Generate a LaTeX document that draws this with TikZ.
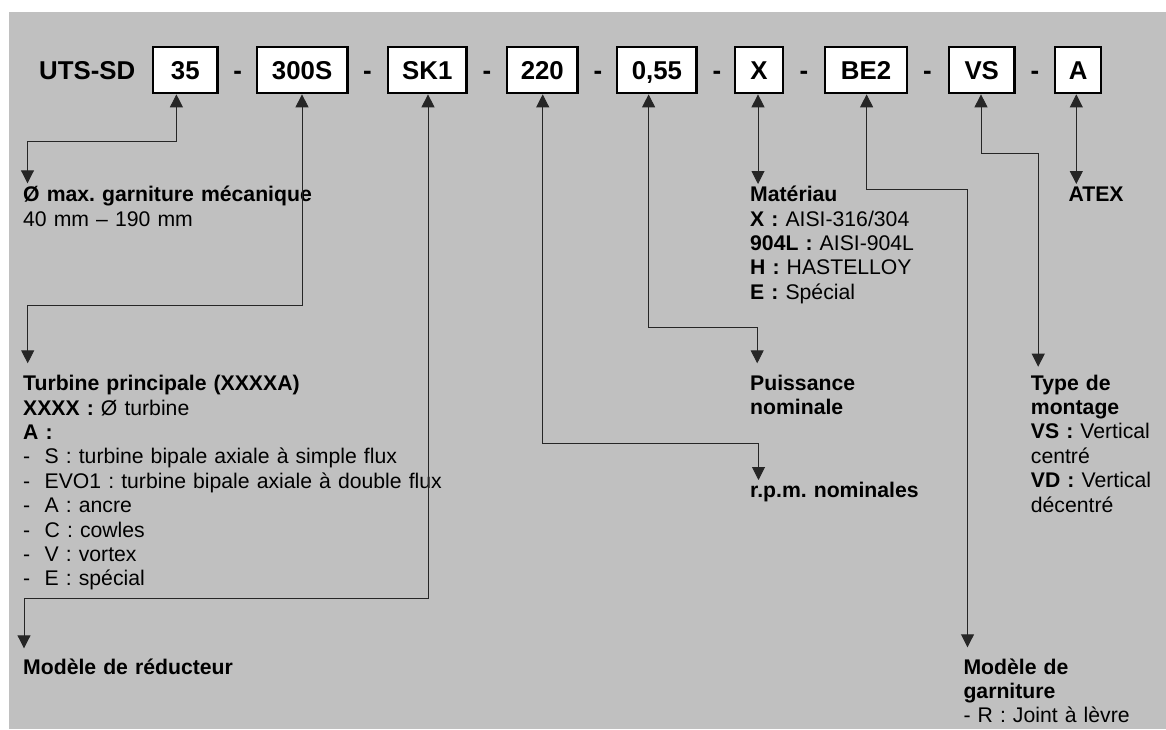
\documentclass[tikz,border=0pt]{standalone}
\usepackage{fontspec}
\setmainfont{Liberation Sans}
\usetikzlibrary{arrows.meta}
\definecolor{bg}{RGB}{192,192,192}
\frenchspacing
\tikzset{
  codebox/.style={draw=black, line width=2.3pt, fill=white, inner sep=0pt,
    minimum height=46.4pt, text height=18.5pt, text depth=0pt,
    font=\fontsize{25.8pt}{30pt}\selectfont\bfseries},
  sep/.style={anchor=base, inner sep=0pt, font=\fontsize{25.8pt}{30pt}\selectfont\bfseries},
  lbl/.style={anchor=base west, inner sep=0pt, text width=600pt, align=left,
    font=\fontsize{21.2pt}{24.4pt}\selectfont\frenchspacing},
  conn/.style={draw=black!85, line width=0.9pt,
    {Triangle[length=13pt,width=13pt]}-{Triangle[length=13pt,width=13pt]}},
}
\begin{document}
\begin{tikzpicture}[x=1pt,y=-1pt]
\useasboundingbox (0,0) rectangle (1166,729);
\fill[bg] (9,12) rectangle (1166,729);

% title and code boxes
\node[anchor=base west, inner sep=0pt, font=\fontsize{25.8pt}{30pt}\selectfont\bfseries] (title) at (39,79.25) {UTS-SD};
\node[codebox, minimum width=64.2pt] (b1) at (185.3,70) {35};
\node[codebox, minimum width=90.7pt] (b2) at (302.1,70) {300S};
\node[codebox, minimum width=78.3pt] (b3) at (427.3,70) {SK1};
\node[codebox, minimum width=70.3pt] (b4) at (542.3,70) {220};
\node[codebox, minimum width=79.4pt] (b5) at (656.9,70) {0,55};
\node[codebox, minimum width=47.7pt] (b6) at (759,70) {X};
\node[codebox, minimum width=82.6pt] (b7) at (866,70) {BE2};
\node[codebox, minimum width=65.7pt] (b8) at (981.7,70) {VS};
\node[codebox, minimum width=46.3pt] (b9) at (1078.1,70) {A};

\node[sep] (s1) at (237.7,79.25) {-};
\node[sep] (s2) at (367.4,79.25) {-};
\node[sep] (s3) at (486.8,79.25) {-};
\node[sep] (s4) at (598,79.25) {-};
\node[sep] (s5) at (717,79.25) {-};
\node[sep] (s6) at (804,79.25) {-};
\node[sep] (s7) at (927.5,79.25) {-};
\node[sep] (s8) at (1035,79.25) {-};

% labels
\node[lbl] (l1) at (23,201.7) {\textbf{Ø max. garniture mécanique}\\40 mm – 190 mm};
\node[lbl] (l2) at (23,390.7) {\textbf{Turbine principale (XXXXA)}\\
  \textbf{XXXX :} Ø turbine\\
  \textbf{A :}\\
  \makebox[21.5pt][l]{-}S : turbine bipale axiale à simple flux\\
  \makebox[21.5pt][l]{-}EVO1 : turbine bipale axiale à double flux\\
  \makebox[21.5pt][l]{-}A : ancre\\
  \makebox[21.5pt][l]{-}C : cowles\\
  \makebox[21.5pt][l]{-}V : vortex\\
  \makebox[21.5pt][l]{-}E : spécial};
\node[lbl] (l3) at (23,674) {\textbf{Modèle de réducteur}};
\node[lbl] (l4) at (750,497) {\textbf{r.p.m. nominales}};
\node[lbl] (l5) at (750,390) {\textbf{Puissance}\\\textbf{nominale}};
\node[lbl] (l6) at (750,201.7) {\textbf{Matériau}\\
  \textbf{X :} AISI-316/304\\
  \textbf{904L :} AISI-904L\\
  \textbf{H :} HASTELLOY\\
  \textbf{E :} Spécial};
\node[lbl] (l7) at (963.3,674) {\textbf{Modèle de}\\\textbf{garniture}\\- R : Joint à lèvre};
\node[lbl] (l8) at (1030.7,390) {\textbf{Type de}\\\textbf{montage}\\
  \textbf{VS :} Vertical\\centré\\
  \textbf{VD :} Vertical\\décentré};
\node[lbl] (l9) at (1068.4,201.7) {\textbf{ATEX}};

% arrow tips and corners
\coordinate (t1) at (27.5,183.3);   \coordinate (c1) at (176.4,141.3);
\coordinate (t2) at (27.7,363.3);   \coordinate (c2) at (302,305.7);
\coordinate (t3) at (24,648.3);     \coordinate (c3) at (428,598.3);
\coordinate (t4) at (758.5,480);    \coordinate (c4) at (542.7,443.3);
\coordinate (t5) at (757.2,363.3);  \coordinate (c5) at (648.6,327.7);
\coordinate (t6) at (758,184);
\coordinate (t7) at (967.5,647.3);  \coordinate (c7) at (866.6,189.3);
\coordinate (t8) at (1038.2,366.7); \coordinate (c8) at (981,153.3);
\coordinate (t9) at (1076.3,184);

% connectors
\draw[conn] (t1) |- (c1) -- (c1 |- b1.south);
\draw[conn] (t2) |- (c2) -- (c2 |- b2.south);
\draw[conn] (t3) |- (c3) -- (c3 |- b3.south);
\draw[conn] (t4) |- (c4) -- (c4 |- b4.south);
\draw[conn] (t5) |- (c5) -- (c5 |- b5.south);
\draw[conn] (t6) -- (t6 |- b6.south);
\draw[conn] (t7) |- (c7) -- (c7 |- b7.south);
\draw[conn] (t8) |- (c8) -- (c8 |- b8.south);
\draw[conn] (t9) -- (t9 |- b9.south);
\end{tikzpicture}
\end{document}
